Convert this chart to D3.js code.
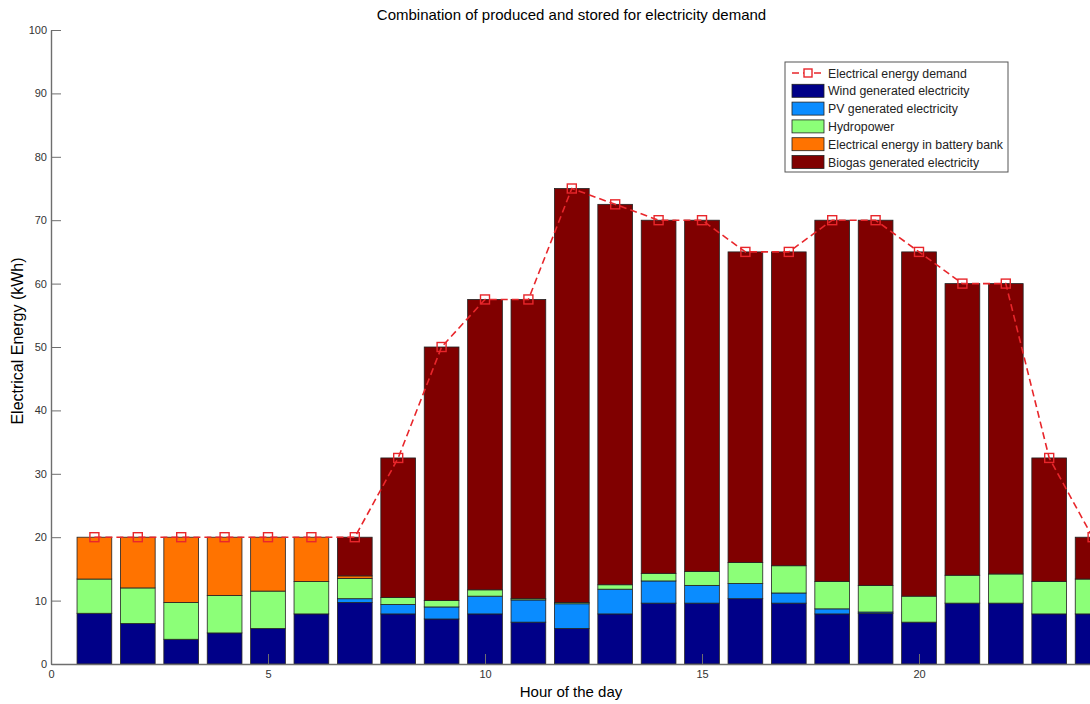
<!DOCTYPE html>
<html>
<head>
<meta charset="utf-8">
<script src="https://cdn.jsdelivr.net/npm/d3@7"></script>
<style>
  body { margin: 0; background: #fff; }
  svg { display: block; font-family: "Liberation Sans", Arial, sans-serif; }
</style>
</head>
<body>
<svg id="chart" width="1090" height="704"></svg>
<script>
// Hours of the day
const hours = d3.range(1, 25);

// Energy supplied per source (kWh), stacked bottom to top
const wind    = [8.0, 6.4, 3.9, 4.9, 5.6, 7.9, 9.7, 7.9, 7.1, 7.9, 6.6, 5.6, 7.9, 9.6, 9.6, 10.3, 9.6, 7.9, 8.0, 6.6, 9.6, 9.6, 7.9, 7.9];
const pv      = [0, 0, 0, 0, 0, 0, 0.6, 1.5, 1.9, 2.8, 3.5, 3.9, 3.9, 3.5, 2.8, 2.4, 1.6, 0.8, 0.2, 0, 0, 0, 0, 0];
const hydro   = [5.4, 5.6, 5.8, 5.9, 5.9, 5.1, 3.2, 1.1, 1.0, 1.0, 0.2, 0.2, 0.7, 1.2, 2.2, 3.3, 4.3, 4.3, 4.2, 4.1, 4.4, 4.6, 5.1, 5.5];
const battery = [6.6, 8.0, 10.3, 9.2, 8.5, 7.0, 0.4, 0, 0, 0, 0, 0, 0, 0, 0, 0, 0, 0, 0, 0, 0, 0, 0, 0];
const biogas  = [0, 0, 0, 0, 0, 0, 6.1, 22.0, 40.0, 45.8, 47.2, 65.3, 60.0, 55.7, 55.4, 49.0, 49.5, 57.0, 57.6, 54.3, 46.0, 45.8, 19.5, 6.6];

// Electrical energy demand (kWh)
const demand  = [20, 20, 20, 20, 20, 20, 20, 32.5, 50, 57.5, 57.5, 75, 72.5, 70, 70, 65, 65, 70, 70, 65, 60, 60, 32.5, 20];

const seriesNames = ["Wind generated electricity", "PV generated electricity", "Hydropower",
                     "Electrical energy in battery bank", "Biogas generated electricity"];
const seriesColors = ["#000088", "#0a8cff", "#8cff78", "#ff7300", "#800000"];
const xTicks = [0, 5, 10, 15, 20];
const yTicks = [0, 10, 20, 30, 40, 50, 60, 70, 80, 90, 100];

const svg = d3.select("#chart");
const plotLeft = 51, plotTop = 30, plotBottom = 664, plotRight = 1092.6;

const x = d3.scaleLinear().domain([0, 24]).range([plotLeft, plotRight]);
const y = d3.scaleLinear().domain([0, 100]).range([plotBottom, plotTop]);

svg.append("defs").append("clipPath").attr("id", "plotclip")
  .append("rect").attr("x", plotLeft).attr("y", plotTop)
  .attr("width", plotRight - plotLeft).attr("height", plotBottom - plotTop);

// Build stacked table
const keys = ["wind", "pv", "hydro", "battery", "biogas"];
const table = hours.map((h, i) => ({
  hour: h, wind: wind[i], pv: pv[i], hydro: hydro[i], battery: battery[i], biogas: biogas[i]
}));
const stacked = d3.stack().keys(keys)(table);

const barW = 0.8;
const plot = svg.append("g").attr("clip-path", "url(#plotclip)");

stacked.forEach((layer, k) => {
  plot.append("g").selectAll("rect")
    .data(layer.filter(d => d[1] - d[0] > 0))
    .join("rect")
    .attr("x", d => x(d.data.hour - barW / 2))
    .attr("width", d => x(barW) - x(0))
    .attr("y", d => y(d[1]))
    .attr("height", d => y(d[0]) - y(d[1]))
    .attr("fill", seriesColors[k])
    .attr("stroke", "#222")
    .attr("stroke-width", 0.8);
});

// Demand line with square markers
const line = d3.line().x((d, i) => x(hours[i])).y(d => y(d));
plot.append("path")
  .datum(demand)
  .attr("d", line)
  .attr("fill", "none")
  .attr("stroke", "#e8262b")
  .attr("stroke-width", 1.6)
  .attr("stroke-dasharray", "7,4");

const ms = 9;
plot.append("g").selectAll("rect")
  .data(demand)
  .join("rect")
  .attr("x", (d, i) => x(hours[i]) - ms / 2)
  .attr("y", d => y(d) - ms / 2)
  .attr("width", ms)
  .attr("height", ms)
  .attr("fill", "none")
  .attr("stroke", "#e8262b")
  .attr("stroke-width", 1.4);

// Axes (ticks pointing inward)
const axisColor = "#6e6e6e";
const yAxis = svg.append("g").attr("transform", `translate(${plotLeft},0)`)
  .call(d3.axisLeft(y).tickValues(yTicks).tickSize(-10).tickPadding(4).tickSizeOuter(0));
const xAxis = svg.append("g").attr("transform", `translate(0,${plotBottom})`)
  .call(d3.axisBottom(x).tickValues(xTicks).tickSize(-10).tickPadding(6).tickSizeOuter(0));
[xAxis, yAxis].forEach(a => {
  a.select(".domain").attr("stroke", axisColor).attr("stroke-width", 1.4);
  a.selectAll(".tick line").attr("stroke", axisColor);
  a.selectAll(".tick text").attr("fill", "#333").style("font-size", "11px")
    .style("font-family", "'Liberation Sans', Arial, sans-serif");
});

// Title and axis labels
svg.append("text").attr("x", 571.5).attr("y", 20).attr("text-anchor", "middle")
  .style("font-size", "15px").attr("fill", "#000")
  .text("Combination of produced and stored for electricity demand");
svg.append("text").attr("x", 571).attr("y", 697).attr("text-anchor", "middle")
  .style("font-size", "15px").attr("fill", "#000")
  .text("Hour of the day");
svg.append("text").attr("transform", "translate(23,341) rotate(-90)").attr("text-anchor", "middle")
  .style("font-size", "16px").attr("fill", "#000")
  .text("Electrical Energy (kWh)");

// Legend
const lg = svg.append("g").attr("transform", "translate(785,62)");
lg.append("rect").attr("width", 223).attr("height", 110)
  .attr("fill", "#fff").attr("stroke", "#555").attr("stroke-width", 1);
const rowH = 17.8, row0 = 11;
const l0 = lg.append("g").attr("transform", `translate(0,${row0})`);
l0.append("line").attr("x1", 7).attr("x2", 39).attr("y1", 0).attr("y2", 0)
  .attr("stroke", "#e8262b").attr("stroke-width", 1.6).attr("stroke-dasharray", "7,4");
l0.append("rect").attr("x", 23 - 4).attr("y", -4).attr("width", 8).attr("height", 8)
  .attr("fill", "#fff").attr("stroke", "#e8262b").attr("stroke-width", 1.4);
l0.append("text").attr("x", 43).attr("y", 4.5).style("font-size", "12.3px").attr("fill", "#222")
  .text("Electrical energy demand");
seriesNames.forEach((name, k) => {
  const g = lg.append("g").attr("transform", `translate(0,${row0 + rowH * (k + 1)})`);
  g.append("rect").attr("x", 7).attr("y", -6.5).attr("width", 32).attr("height", 13)
    .attr("fill", seriesColors[k]).attr("stroke", "#222").attr("stroke-width", 0.8);
  g.append("text").attr("x", 43).attr("y", 4.5).style("font-size", "12.3px").attr("fill", "#222")
    .text(name);
});
</script>
</body>
</html>
